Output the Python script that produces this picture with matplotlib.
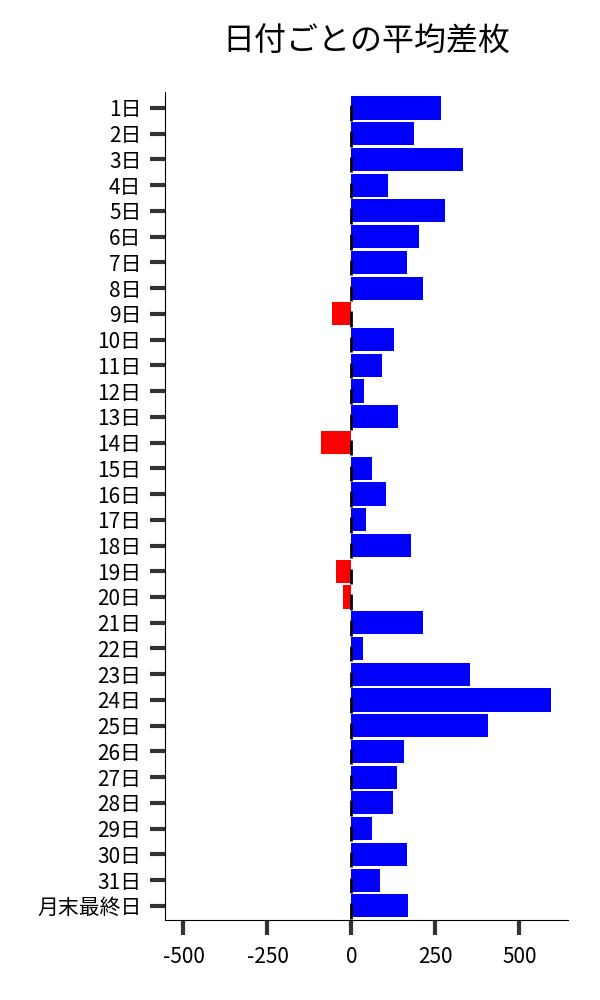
import matplotlib
matplotlib.use("Agg")
import matplotlib.pyplot as plt
import numpy as np

plt.rcParams['font.family'] = ['Noto Sans CJK JP', 'DejaVu Sans']

# === data ===
days = [f"{d}日" for d in range(1, 32)] + ["月末最終日"]
avg_diff = [265, 185, 333, 110, 277, 202, 164, 214, -57, 128,
            92, 36, 137, -92, 60, 104, 42, 176, -45, -24,
            214, 33, 354, 595, 405, 155, 134, 125, 62, 164,
            86, 167]
x_ticks = [-500, -250, 0, 250, 500]

# === plot ===
fig = plt.figure(figsize=(6, 10), dpi=100)
ax = fig.add_axes([0.275, 0.08, 0.672, 0.828])

y = np.arange(len(days))
colors = ['blue' if v >= 0 else 'red' for v in avg_diff]
ax.barh(y, avg_diff, height=0.9, color=colors)
# small black marks at zero
ax.vlines(np.zeros(len(y)), y - 0.1, y + 0.5, color='black', linewidth=2)

ax.set_yticks(y)
ax.set_yticklabels(days)
ax.set_xticks(x_ticks)
ax.set_xticklabels([str(t) for t in x_ticks])
ax.set_xlim(-555, 645)
ax.set_ylim(len(days) - 0.45, -0.62)

ax.spines['top'].set_visible(False)
ax.spines['right'].set_visible(False)
ax.tick_params(axis='both', length=11, width=3, color='#333333',
               labelsize=15, pad=6)
ax.tick_params(axis='x', pad=8)

ax.set_title("日付ごとの平均差枚", fontsize=23, pad=30)

fig.savefig("out.png", dpi=100)
